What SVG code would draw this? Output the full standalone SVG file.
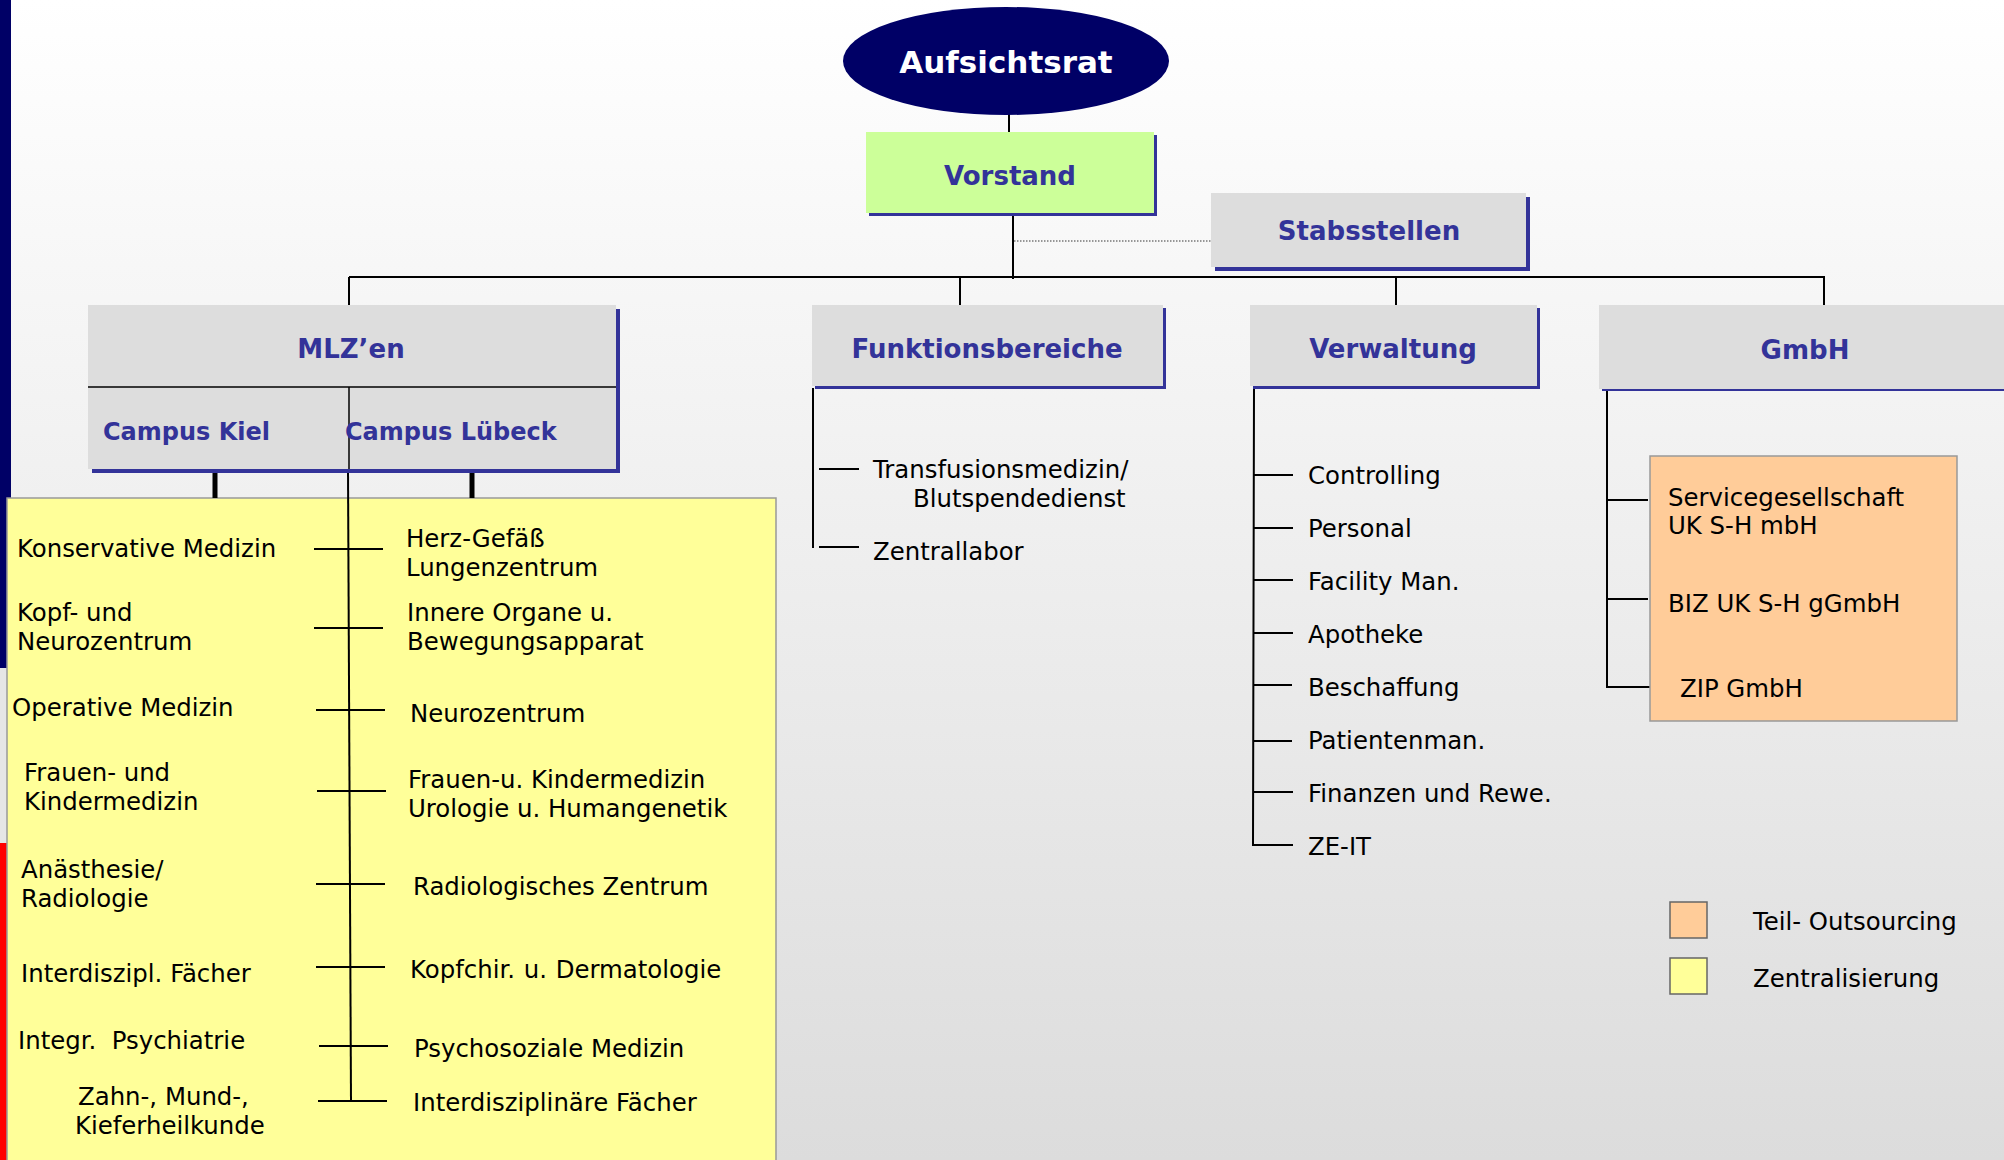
<svg xmlns="http://www.w3.org/2000/svg" width="2004" height="1160" viewBox="0 0 2004 1160">
<defs>
<linearGradient id="bg" x1="0" y1="0" x2="0" y2="1">
<stop offset="0" stop-color="#ffffff"/>
<stop offset="1" stop-color="#dcdcdc"/>
</linearGradient>
<style>
.h{font-family:"DejaVu Sans",Verdana,sans-serif;font-weight:bold;font-size:26px;fill:#333399;text-anchor:middle}
.c{font-family:"DejaVu Sans",Verdana,sans-serif;font-weight:bold;font-size:24px;fill:#333399}
.t{font-family:"DejaVu Sans",Verdana,sans-serif;font-size:24.4px;fill:#000000}
.box{fill:#dddddd}
.sh{fill:#333399}
.ln{stroke:#000000;stroke-width:2;fill:none}
.tk{stroke:#000000;stroke-width:5;fill:none}
</style>
</defs>
<rect x="0" y="0" width="2004" height="1160" fill="url(#bg)"/>
<!-- left accent bar -->
<rect x="0" y="0" width="11" height="668" fill="#000066"/>
<rect x="0" y="668" width="11" height="175" fill="#e6e6e6"/>
<rect x="0" y="843" width="11" height="317" fill="#ff0000"/>

<!-- zentralisierung background -->
<rect id="zentral-area" x="7" y="498" width="769" height="670" fill="#ffff99" stroke="#999999" stroke-width="1.5"/>

<g id="connectors">
<line class="ln" x1="1009" y1="114" x2="1009" y2="132"/>
<line class="ln" x1="1013" y1="213" x2="1013" y2="279"/>
<line x1="1014" y1="241" x2="1211" y2="241" stroke="#777777" stroke-width="1.5" stroke-dasharray="1.5 1.5"/>
<line class="ln" x1="349" y1="277" x2="1825" y2="277"/>
<line class="ln" x1="349" y1="277" x2="349" y2="305"/>
<line class="ln" x1="960" y1="277" x2="960" y2="305"/>
<line class="ln" x1="1396" y1="277" x2="1396" y2="305"/>
<line class="ln" x1="1824" y1="277" x2="1824" y2="305"/>
<!-- MLZ -->
<line class="tk" x1="215" y1="472" x2="215" y2="498"/>
<line class="tk" x1="472" y1="472" x2="472" y2="498"/>
<line class="ln" x1="348" y1="470" x2="351" y2="1102"/>
<line class="ln" x1="314" y1="549" x2="383" y2="549"/>
<line class="ln" x1="314" y1="628" x2="383" y2="628"/>
<line class="ln" x1="316" y1="710" x2="385" y2="710"/>
<line class="ln" x1="317" y1="791" x2="386" y2="791"/>
<line class="ln" x1="316" y1="884" x2="385" y2="884"/>
<line class="ln" x1="316" y1="967" x2="385" y2="967"/>
<line class="ln" x1="319" y1="1046" x2="388" y2="1046"/>
<line class="ln" x1="318" y1="1101" x2="387" y2="1101"/>
<!-- Funktionsbereiche -->
<line class="ln" x1="813" y1="388" x2="813" y2="548"/>
<line class="ln" x1="819" y1="469" x2="859" y2="469"/>
<line class="ln" x1="819" y1="547" x2="859" y2="547"/>
<!-- Verwaltung -->
<path class="ln" d="M1254 388 L1253 845 L1293 845"/>
<line class="ln" x1="1254" y1="475" x2="1293" y2="475"/>
<line class="ln" x1="1254" y1="528" x2="1293" y2="528"/>
<line class="ln" x1="1254" y1="580" x2="1293" y2="580"/>
<line class="ln" x1="1254" y1="633" x2="1293" y2="633"/>
<line class="ln" x1="1253" y1="685" x2="1292" y2="685"/>
<line class="ln" x1="1253" y1="741" x2="1292" y2="741"/>
<line class="ln" x1="1253" y1="792" x2="1293" y2="792"/>
<!-- GmbH -->
<line class="ln" x1="1607" y1="390" x2="1607" y2="688"/>
<line class="ln" x1="1607" y1="500" x2="1648" y2="500"/>
<line class="ln" x1="1607" y1="599" x2="1648" y2="599"/>
<line class="ln" x1="1607" y1="687" x2="1650" y2="687"/>
</g>

<g id="aufsichtsrat">
<ellipse cx="1006" cy="61" rx="163" ry="54" fill="#000066"/>
<text x="1006" y="73" class="h" style="fill:#ffffff;font-size:31px">Aufsichtsrat</text>
</g>

<g id="vorstand">
<rect class="sh" x="869" y="135" width="288" height="81"/>
<rect x="866" y="132" width="288" height="81" fill="#ccff99"/>
<text x="1010" y="185" class="h">Vorstand</text>
</g>

<g id="stabsstellen">
<rect class="sh" x="1215" y="197" width="315" height="74"/>
<rect class="box" x="1211" y="193" width="315" height="74"/>
<text x="1369" y="240" class="h">Stabsstellen</text>
</g>

<g id="mlz">
<rect class="sh" x="92" y="309" width="528" height="164"/>
<rect class="box" x="88" y="305" width="528" height="164"/>
<line x1="88" y1="387" x2="616" y2="387" stroke="#000" stroke-width="1.5"/>
<line x1="349" y1="387" x2="349" y2="469" stroke="#000" stroke-width="1.5"/>
<text x="351" y="358" class="h">MLZ’en</text>
<text x="103" y="440" class="c">Campus Kiel</text>
<text x="345" y="440" class="c">Campus Lübeck</text>
</g>

<g id="mlz-kiel">
<text class="t" x="17" y="557">Konservative Medizin</text>
<text class="t" x="17" y="621">Kopf- und</text>
<text class="t" x="17" y="650">Neurozentrum</text>
<text class="t" x="12" y="716">Operative Medizin</text>
<text class="t" x="24" y="781">Frauen- und</text>
<text class="t" x="24" y="810">Kindermedizin</text>
<text class="t" x="21" y="878">Anästhesie/</text>
<text class="t" x="21" y="907">Radiologie</text>
<text class="t" x="21" y="982">Interdiszipl. Fächer</text>
<text class="t" x="18" y="1049">Integr.&#160; Psychiatrie</text>
<text class="t" x="78" y="1105">Zahn-, Mund-,</text>
<text class="t" x="75" y="1134">Kieferheilkunde</text>
</g>

<g id="mlz-luebeck">
<text class="t" x="406" y="547">Herz-Gefäß</text>
<text class="t" x="406" y="576">Lungenzentrum</text>
<text class="t" x="407" y="621">Innere Organe u.</text>
<text class="t" x="407" y="650">Bewegungsapparat</text>
<text class="t" x="410" y="722">Neurozentrum</text>
<text class="t" x="408" y="788">Frauen-u. Kindermedizin</text>
<text class="t" x="408" y="817">Urologie u. Humangenetik</text>
<text class="t" x="413" y="895">Radiologisches Zentrum</text>
<text class="t" x="410" y="978" style="word-spacing:1px">Kopfchir. u. Dermatologie</text>
<text class="t" x="414" y="1057">Psychosoziale Medizin</text>
<text class="t" x="413" y="1111">Interdisziplinäre Fächer</text>
</g>

<g id="funktionsbereiche">
<rect class="sh" x="815" y="308" width="351" height="81"/>
<rect class="box" x="812" y="305" width="351" height="81"/>
<text x="987" y="358" class="h">Funktionsbereiche</text>
<text class="t" x="873" y="478">Transfusionsmedizin/</text>
<text class="t" x="913" y="507">Blutspendedienst</text>
<text class="t" x="873" y="560">Zentrallabor</text>
</g>

<g id="verwaltung">
<rect class="sh" x="1253" y="308" width="287" height="81"/>
<rect class="box" x="1250" y="305" width="287" height="81"/>
<text x="1393" y="358" class="h">Verwaltung</text>
<text class="t" x="1308" y="484">Controlling</text>
<text class="t" x="1308" y="537">Personal</text>
<text class="t" x="1308" y="590">Facility Man.</text>
<text class="t" x="1308" y="643">Apotheke</text>
<text class="t" x="1308" y="696">Beschaffung</text>
<text class="t" x="1308" y="749">Patientenman.</text>
<text class="t" x="1308" y="802">Finanzen und Rewe.</text>
<text class="t" x="1308" y="855">ZE-IT</text>
</g>

<g id="gmbh">
<rect class="sh" x="1602" y="308" width="410" height="83"/>
<rect class="box" x="1599" y="305" width="410" height="84"/>
<text x="1805" y="359" class="h">GmbH</text>
<rect x="1650" y="456" width="307" height="265" fill="#ffcc99" stroke="#999999" stroke-width="1.5"/>
<text class="t" x="1668" y="506">Servicegesellschaft</text>
<text class="t" x="1668" y="534">UK S-H mbH</text>
<text class="t" x="1668" y="612">BIZ UK S-H gGmbH</text>
<text class="t" x="1680" y="697">ZIP GmbH</text>
</g>

<g id="legend">
<rect x="1670" y="902" width="37" height="36" fill="#ffcc99" stroke="#666666" stroke-width="1.5"/>
<text class="t" x="1753" y="930">Teil- Outsourcing</text>
<rect x="1670" y="958" width="37" height="36" fill="#ffff99" stroke="#666666" stroke-width="1.5"/>
<text class="t" x="1753" y="987">Zentralisierung</text>
</g>
</svg>
